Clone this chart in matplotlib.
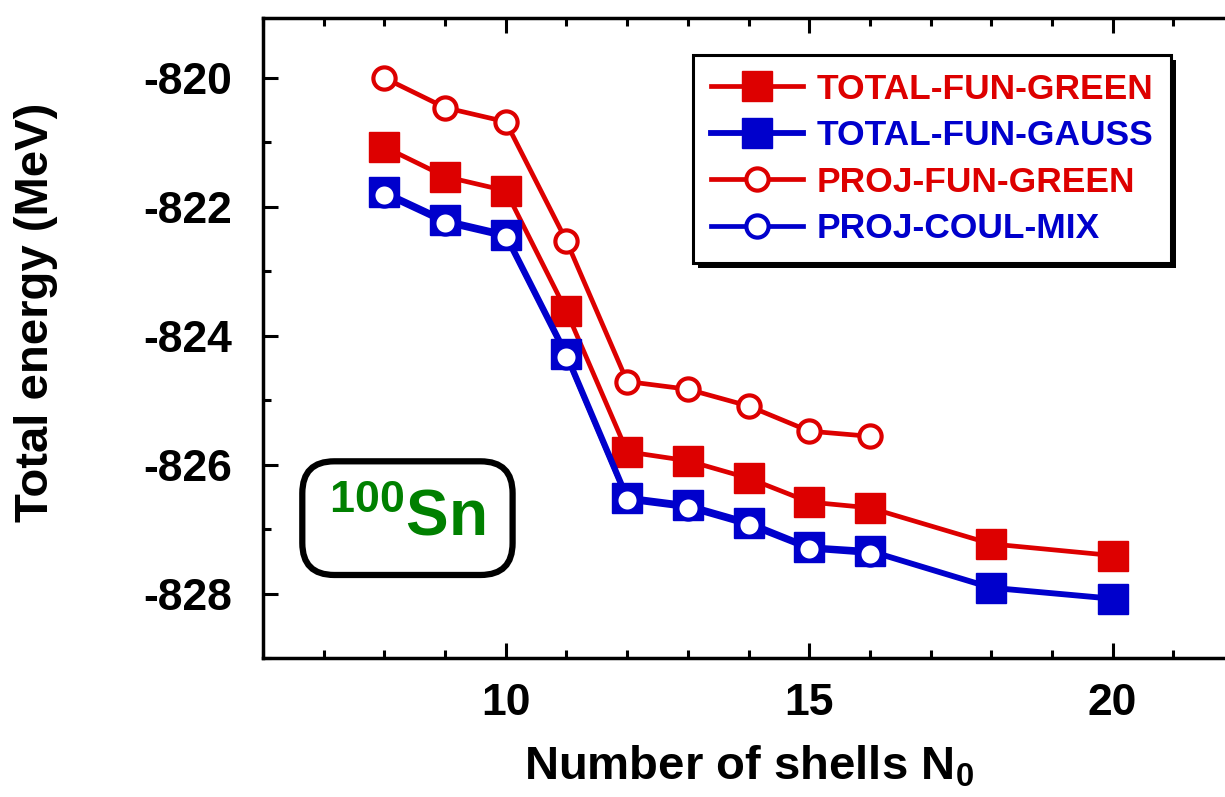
import matplotlib
matplotlib.use('Agg')
import matplotlib.pyplot as plt
from matplotlib.ticker import MultipleLocator
from matplotlib import patheffects

plt.rcParams['font.family'] = ['Liberation Sans', 'DejaVu Sans']
plt.rcParams['font.weight'] = 'bold'
plt.rcParams['axes.labelweight'] = 'bold'
plt.rcParams['axes.unicode_minus'] = False
plt.rcParams['mathtext.fontset'] = 'custom'
plt.rcParams['mathtext.rm'] = 'Liberation Sans:bold'
plt.rcParams['mathtext.it'] = 'Liberation Sans:bold'
plt.rcParams['mathtext.bf'] = 'Liberation Sans:bold'

# Total energy of 100Sn against the number of oscillator shells
shells = [8, 9, 10, 11, 12, 13, 14, 15, 16, 18, 20]
total_fun_green = [-821.07, -821.53, -821.75, -823.62, -825.80, -825.94,
                   -826.21, -826.58, -826.67, -827.23, -827.41]
total_fun_gauss = [-821.77, -822.21, -822.43, -824.29, -826.51, -826.63,
                   -826.90, -827.28, -827.34, -827.91, -828.08]

shells_proj = [8, 9, 10, 11, 12, 13, 14, 15, 16]
proj_fun_green = [-820.00, -820.46, -820.68, -822.53, -824.71, -824.83,
                  -825.09, -825.48, -825.56]
proj_coul_mix = [-821.81, -822.25, -822.47, -824.33, -826.55, -826.67,
                 -826.94, -827.31, -827.38]

red = '#dd0000'
blue = '#0000cc'

fig = plt.figure(figsize=(12.25, 7.97), dpi=100)
ax = fig.add_axes([0.2147, 0.1744, 0.7927, 0.803])

ax.plot(shells, total_fun_green, '-s', color=red, lw=3.4, ms=22,
        label='TOTAL-FUN-GREEN', zorder=3)
ax.plot(shells, total_fun_gauss, '-s', color=blue, lw=4.2, ms=22,
        label='TOTAL-FUN-GAUSS', zorder=3)
ax.plot(shells_proj, proj_fun_green, '-o', color=red, lw=3.4, ms=16,
        mfc='white', mew=3, label='PROJ-FUN-GREEN', zorder=4)
ax.plot(shells_proj, proj_coul_mix, '-o', color=blue, lw=3.4, ms=16,
        mfc='white', mew=3, label='PROJ-COUL-MIX', zorder=4)

ax.set_xlim(6, 22)
ax.set_ylim(-829, -819.07)
ax.xaxis.set_major_locator(MultipleLocator(5))
ax.xaxis.set_minor_locator(MultipleLocator(1))
ax.yaxis.set_major_locator(MultipleLocator(2))
ax.yaxis.set_minor_locator(MultipleLocator(1))
ax.tick_params(which='both', direction='in', top=True, right=False,
               width=2.2, labelsize=32)
ax.tick_params(which='major', length=11)
ax.tick_params(which='minor', length=6)
ax.tick_params(axis='x', pad=18)
ax.tick_params(axis='y', pad=22)
for s in ax.spines.values():
    s.set_linewidth(2.5)

ax.set_xlabel('Number of shells N$_0$', fontsize=34)
ax.set_ylabel('Total energy (MeV)', fontsize=34)
ax.xaxis.set_label_coords(0.5, -0.135)
ax.yaxis.set_label_coords(-0.211, 0.54)

leg = ax.legend(loc='upper left', bbox_to_anchor=(693 / 1225, 1 - 55 / 797),
                bbox_transform=fig.transFigure, borderaxespad=0,
                fontsize=25.5, fancybox=False, framealpha=1,
                edgecolor='black', handlelength=2.6, handletextpad=0.4,
                labelspacing=0.38, borderpad=0.5)
leg.get_frame().set_linewidth(2.2)
leg.get_frame().set_path_effects([
    patheffects.SimplePatchShadow(offset=(3.5, -3.5), shadow_rgbFace='black',
                                  alpha=1),
    patheffects.Normal()])
for txt, c in zip(leg.get_texts(), [red, blue, red, blue]):
    txt.set_color(c)

ax.text(8.38, -826.83, '$^{100}$Sn', fontsize=46, color='#008000',
        ha='center', va='center',
        bbox=dict(boxstyle='round,pad=0.42,rounding_size=0.5',
                  fc='white', ec='black', lw=4.5))

fig.savefig('out.png', dpi=100)
